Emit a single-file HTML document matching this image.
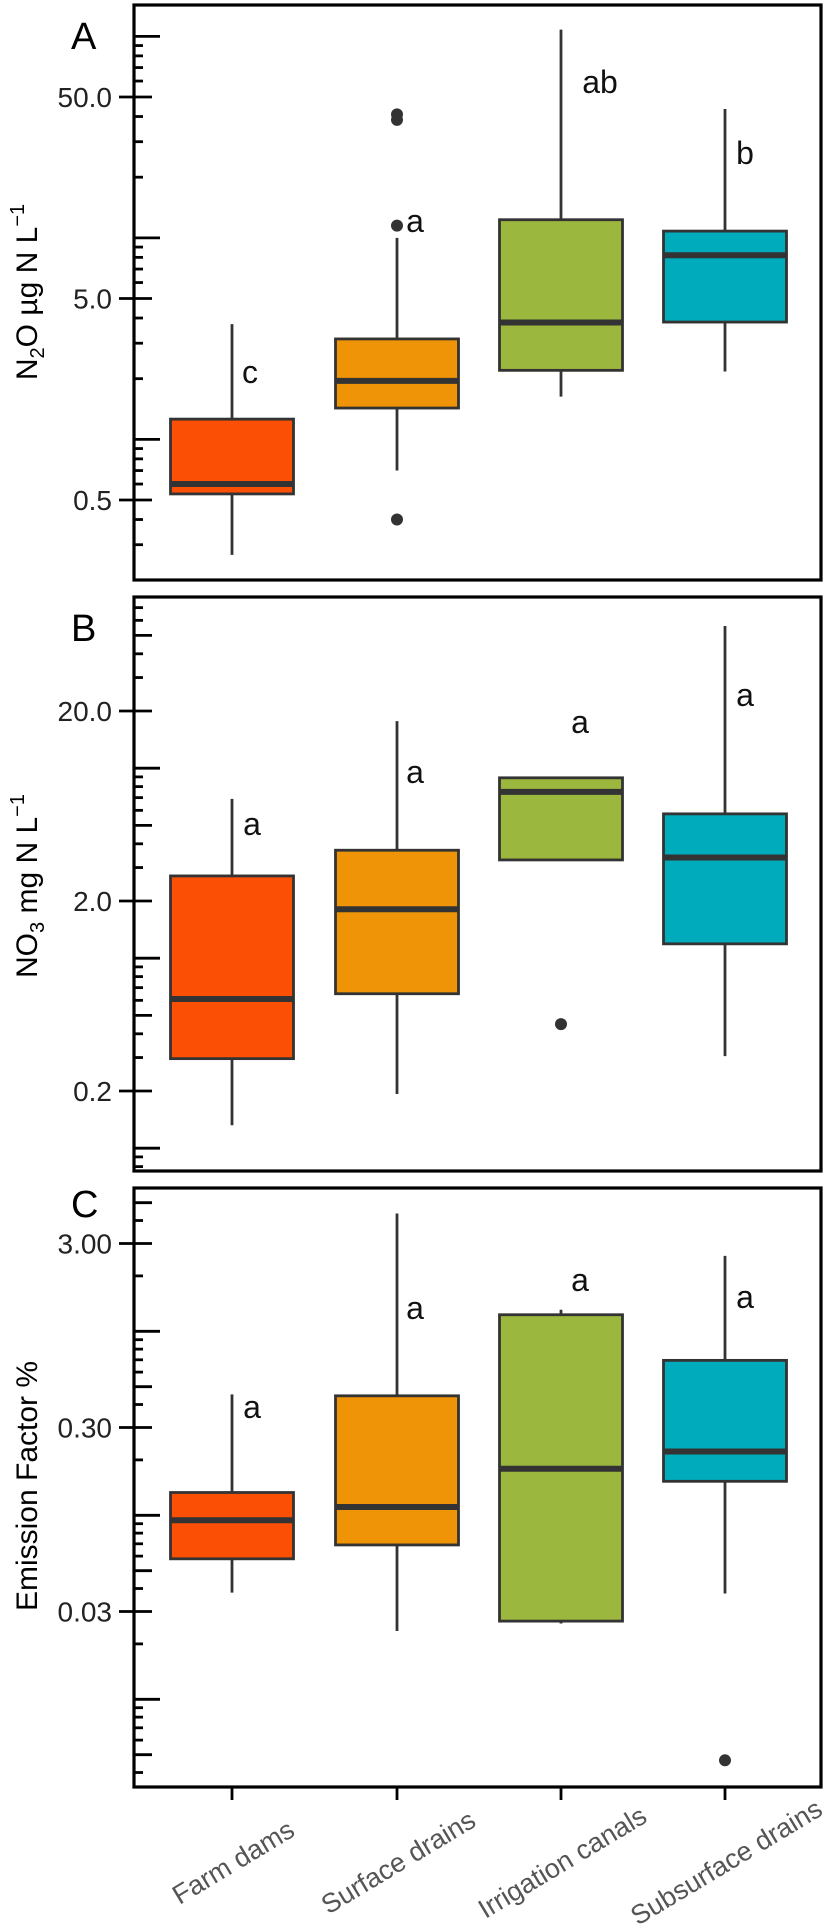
<!DOCTYPE html>
<html><head><meta charset="utf-8"><style>
html,body{margin:0;padding:0;background:#fff;}
svg{display:block;font-family:"Liberation Sans",Arial,sans-serif;}
</style></head><body>
<svg id="fig" width="825" height="1931" viewBox="0 0 825 1931" xmlns="http://www.w3.org/2000/svg"></svg>
<script>
const categories = ["Farm dams","Surface drains","Irrigation canals","Subsurface drains"];
const colors = ["#FA4F05","#EE9406","#9CB73E","#00ABBB"];
// Panel A: N2O
const aLow = [0.267,0.70,1.63,2.17];
const aQ1 = [0.536,1.43,2.2,3.82];
const aMed = [0.60,1.95,3.8,8.2];
const aQ3 = [1.26,3.15,12.3,10.8];
const aHigh = [3.73,10.0,108,43.6];
const aOut = [[],[0.40,11.5,38.5,41],[],[]];
const aLetters = ["c","a","ab","b"];
const aTicks = ["0.5","5.0","50.0"];
// Panel B: NO3
const bLow = [0.132,0.193,3.29,0.305];
const bQ1 = [0.296,0.65,3.29,1.19];
const bMed = [0.61,1.81,7.5,3.39];
const bQ3 = [2.71,3.7,8.9,5.75];
const bHigh = [6.9,17.7,8.9,56];
const bOut = [[],[],[0.45],[]];
const bLetters = ["a","a","a","a"];
const bTicks = ["0.2","2.0","20.0"];
// Panel C: Emission factor
const cLow = [0.038,0.0235,0.0258,0.0376];
const cQ1 = [0.058,0.069,0.0266,0.153];
const cMed = [0.094,0.111,0.179,0.222];
const cQ3 = [0.133,0.446,1.23,0.695];
const cHigh = [0.454,4.37,1.31,2.57];
const cOut = [[],[],[],[0.00466]];
const cLetters = ["a","a","a","a"];
const cTicks = ["0.03","0.30","3.00"];

const NS="http://www.w3.org/2000/svg";
const svg=document.getElementById('fig');
function mk(tag,attrs,parent){const e=document.createElementNS(NS,tag);for(const k in attrs)e.setAttribute(k,attrs[k]);(parent||svg).appendChild(e);return e;}
const AXL=134, AXR=821, HALF=61.5;
const xCenter=[232,397,561,725];
function xPos(i){return xCenter[i];}

const panels=[
 {id:"a",top:5,bot:580,refV:50,refY:97,dec:201.5,labelMult:5,low:aLow,q1:aQ1,med:aMed,q3:aQ3,high:aHigh,out:aOut,letters:aLetters,ticks:aTicks,letter:"A",letterY:49,
  letterPos:[[250,372],[415,221],[600,82],[745,153]]},
 {id:"b",top:597,bot:1171,refV:20,refY:711,dec:190,labelMult:2,low:bLow,q1:bQ1,med:bMed,q3:bQ3,high:bHigh,out:bOut,letters:bLetters,ticks:bTicks,letter:"B",letterY:641,
  letterPos:[[252,824],[415,772],[580,722],[745,695]]},
 {id:"c",top:1188,bot:1787,refV:3,refY:1243.5,dec:184,labelMult:3,low:cLow,q1:cQ1,med:cMed,q3:cQ3,high:cHigh,out:cOut,letters:cLetters,ticks:cTicks,letter:"C",letterY:1217,
  letterPos:[[252,1407],[415,1308],[580,1280],[745,1297]]}
];

panels.forEach(p=>{
  const y=v=>p.refY+(Math.log10(p.refV)-Math.log10(v))*p.dec;
  const g=mk('g',{});
  
  
  const tg=mk('g',{},g);
  
  
  for(let e=-4;e<=4;e++){
    for(let m=1;m<=9;m++){
      const v=m*Math.pow(10,e); const yy=y(v);
      if(yy<p.top+3||yy>p.bot-3) continue;
      let x1=AXL,x2=AXL+9;
      if(m===p.labelMult){x1=AXL-15;x2=AXL+18;}
      else if(m===1){x2=AXL+26;}
      else if(m===5){x2=AXL+18;}
      const t=mk('line',{x1:x1,x2:x2,y1:yy,y2:yy,stroke:'#000','stroke-width':2.8},tg);
      
      
    }
  }
  p.ticks.forEach(s=>{
    const t=mk('text',{x:112,y:y(parseFloat(s))+10,'text-anchor':'end','font-size':28,fill:'#222'},g);
    t.textContent=s;
    
    
  });
  const fr=mk('rect',{x:AXL,y:p.top,width:AXR-AXL,height:p.bot-p.top,fill:'none',stroke:'#000','stroke-width':3.2},g);
  
  
  const pl=mk('text',{x:71,y:p.letterY,'font-size':38,fill:'#000'},g);
  pl.textContent=p.letter;
  
  
  categories.forEach((c,i)=>{
    const bx=mk('g',{},g);
    
    
    const cx=xPos(i);
    const w=mk('line',{x1:cx,x2:cx,y1:y(p.high[i]),y2:y(p.low[i]),stroke:'#333','stroke-width':2.8},bx);
    
    
    const r=mk('rect',{x:cx-HALF,y:y(p.q3[i]),width:2*HALF,height:y(p.q1[i])-y(p.q3[i]),fill:colors[i],stroke:'#333','stroke-width':2.8},bx);
    
    
    const md=mk('line',{x1:cx-HALF,x2:cx+HALF,y1:y(p.med[i]),y2:y(p.med[i]),stroke:'#333','stroke-width':6},bx);
    
    
    p.out[i].forEach(v=>{
      const o=mk('circle',{cx:cx,cy:y(v),r:6,fill:'#333'},bx);
      
      
    });
    const lt=mk('text',{x:p.letterPos[i][0],y:p.letterPos[i][1]+11,'text-anchor':'middle','font-size':32,fill:'#111'},bx);
    lt.textContent=p.letters[i];
    
    
  });
});

function ytitle(html,cx,cy,name){
  const t=mk('text',{x:0,y:0,'text-anchor':'middle','font-size':30,fill:'#000',transform:`translate(${cx},${cy}) rotate(-90)`});
  t.innerHTML=html;
  
  
}
ytitle('N<tspan font-size="20" dy="7">2</tspan><tspan dy="-7">O µg N L</tspan><tspan font-size="20" dy="-13">−1</tspan>',37,292,'y-axis-title-a');
ytitle('NO<tspan font-size="20" dy="7">3</tspan><tspan dy="-7"> mg N L</tspan><tspan font-size="20" dy="-13">−1</tspan>',37,886,'y-axis-title-b');
ytitle('Emission Factor %',37,1486,'y-axis-title-c');

categories.forEach((c,i)=>{
  const cx=xPos(i);
  const t=mk('line',{x1:cx,x2:cx,y1:1787,y2:1800,stroke:'#000','stroke-width':2.8});
  
  
  const l=mk('text',{x:0,y:0,'text-anchor':'middle','font-size':27,fill:'#555',transform:`translate(${cx+6},${1870}) rotate(-31)`});
  l.textContent=c;
  
  
});
</script>
</body></html>
